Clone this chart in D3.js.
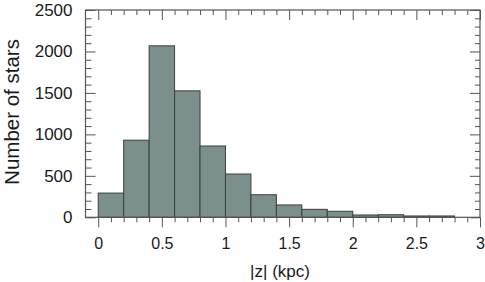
<!DOCTYPE html>
<html>
<head>
<meta charset="utf-8">
<script src="https://cdn.jsdelivr.net/npm/d3@7"></script>
<style>
  body { margin: 0; background: #fff; }
  svg { display: block; font-family: "Liberation Sans", Arial, sans-serif; }
</style>
</head>
<body>
<svg width="485" height="282"></svg>
<script>
// histogram bins of |z| (kpc), width 0.2
const binStarts = [0, 0.2, 0.4, 0.6, 0.8, 1.0, 1.2, 1.4, 1.6, 1.8, 2.0, 2.2, 2.4, 2.6];
const counts = [292, 930, 2068, 1525, 860, 522, 272, 149, 96, 73, 28, 31, 16, 16];
const binWidth = 0.2;
const xTicks = [0, 0.5, 1, 1.5, 2, 2.5, 3];
const yTicks = [0, 500, 1000, 1500, 2000, 2500];

const svg = d3.select('svg');
const plotL = 85.5, plotR = 480, plotT = 10, plotB = 217.3;

const x = d3.scaleLinear().domain([-0.1, 3]).range([plotL, plotR]);
const y = d3.scaleLinear().domain([0, 2500]).range([plotB, plotT]);

const axisColor = '#555';

// bars
svg.append('g').selectAll('rect')
    .data(binStarts)
    .join('rect')
    .attr('x', (d) => x(d))
    .attr('width', (d) => x(d + binWidth) - x(d))
    .attr('y', (d, i) => y(counts[i]))
    .attr('height', (d, i) => y(0) - y(counts[i]))
    .style('fill', '#7b8f8c')
    .style('stroke', '#3a3f3e')
    .style('stroke-width', 1);

// frame
svg.append('rect')
    .attr('x', plotL).attr('y', plotT)
    .attr('width', plotR - plotL).attr('height', plotB - plotT)
    .style('fill', 'none').style('stroke', axisColor).style('stroke-width', 1.2);

const minorX = d3.range(0, 31).map(i => i / 10);
const minorY = d3.range(0, 26).map(i => i * 100);
const isMajorX = d => Math.abs(d * 2 - Math.round(d * 2)) < 1e-6;

// bottom axis: ticks point outward
svg.append('g').attr('transform', `translate(0,${plotB})`)
    .call(d3.axisBottom(x).tickValues(minorX).tickSize(5).tickFormat(''))
    .call(g => g.select('.domain').remove())
    .call(g => g.selectAll('.tick line').attr('y2', d => isMajorX(d) ? 10 : 5).style('stroke', axisColor));
svg.append('g').attr('transform', `translate(0,${plotB})`)
    .call(d3.axisBottom(x).tickValues(xTicks).tickSize(0).tickPadding(20).tickFormat(d3.format('')))
    .call(g => g.select('.domain').remove())
    .call(g => g.selectAll('text').style('font-size', '16px').style('fill', '#1a1a1a')
        .style('font-family', '"Liberation Sans", Arial, sans-serif'));

// top axis: ticks point inward
svg.append('g').attr('transform', `translate(0,${plotT})`)
    .call(d3.axisBottom(x).tickValues(minorX).tickSize(5).tickFormat(''))
    .call(g => g.select('.domain').remove())
    .call(g => g.selectAll('.tick line').attr('y2', d => isMajorX(d) ? 10 : 5).style('stroke', axisColor));

// left axis: ticks point inward
svg.append('g').attr('transform', `translate(${plotL},0)`)
    .call(d3.axisRight(y).tickValues(minorY).tickSize(5).tickFormat(''))
    .call(g => g.select('.domain').remove())
    .call(g => g.selectAll('.tick line').attr('x2', d => d % 500 === 0 ? 10 : 6).style('stroke', axisColor));
svg.append('g').attr('transform', `translate(${plotL},0)`)
    .call(d3.axisLeft(y).tickValues(yTicks).tickSize(0).tickPadding(13).tickFormat(d3.format('d')))
    .call(g => g.select('.domain').remove())
    .call(g => g.selectAll('text').style('font-size', '17px').style('fill', '#1a1a1a')
        .style('font-family', '"Liberation Sans", Arial, sans-serif'));

// right axis: ticks point inward
svg.append('g').attr('transform', `translate(${plotR},0)`)
    .call(d3.axisLeft(y).tickValues(minorY).tickSize(5).tickFormat(''))
    .call(g => g.select('.domain').remove())
    .call(g => g.selectAll('.tick line').attr('x2', d => d % 500 === 0 ? -10 : -5).style('stroke', axisColor));

// axis titles
svg.append('text')
    .attr('transform', 'translate(19,112) rotate(-90)')
    .attr('text-anchor', 'middle')
    .style('font-size', '20.5px').style('fill', '#1a1a1a')
    .text('Number of stars');

svg.append('text')
    .attr('x', 280).attr('y', 277)
    .attr('text-anchor', 'middle')
    .style('font-size', '17px').style('fill', '#1a1a1a')
    .text('|z| (kpc)');
</script>
</body>
</html>
